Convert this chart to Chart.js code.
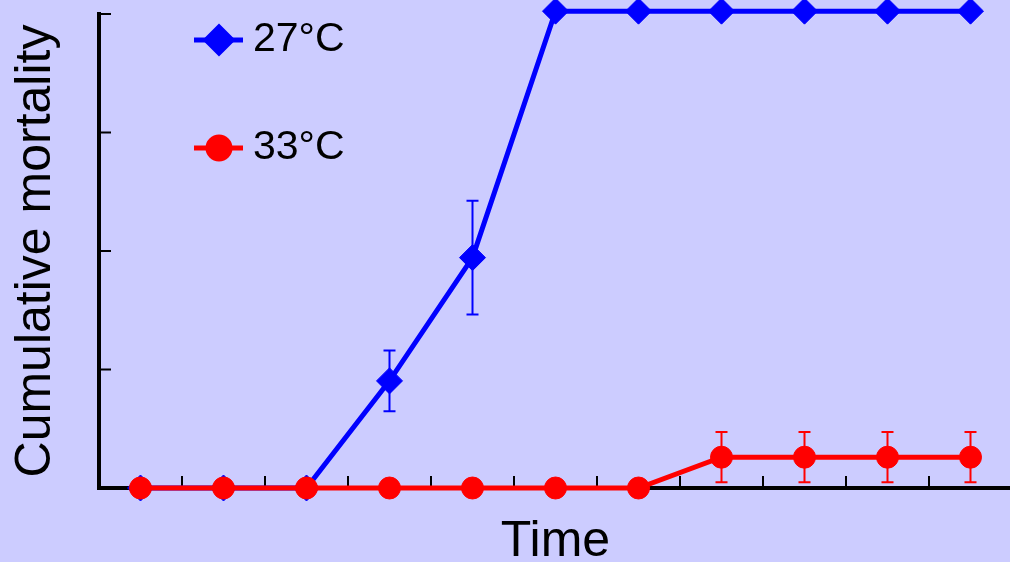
<!DOCTYPE html>
<html>
<head>
<meta charset="utf-8">
<script src="https://cdn.jsdelivr.net/npm/chart.js@4.4.1/dist/chart.umd.min.js"></script>
<style>
  html, body { margin: 0; padding: 0; background: #ccccff; overflow: hidden; }
</style>
</head>
<body>
<canvas id="chart" width="1012" height="562"></canvas>
<script>
// time points (no tick labels shown on the original)
const timePoints = ['1', '2', '3', '4', '5', '6', '7', '8', '9', '10', '11'];

// cumulative mortality (%)
const mort27 = [0, 0, 0, 22.6, 48.6, 100.6, 100.6, 100.6, 100.6, 100.6, 100.6];
const err27 = [0, 0, 0, 6.4, 12, 0, 0, 0, 0, 0, 0];
const mort33 = [0, 0, 0, 0, 0, 0, 0, 6.5, 6.5, 6.5, 6.5];
const err33 = [0, 0, 0, 0, 0, 0, 0, 5.3, 5.3, 5.3, 5.3];

const yTicks = [25, 50, 75, 100];
const FONT = "'Liberation Sans', Arial, sans-serif";

// axis lines and inward tick marks
const axesPlugin = {
  id: 'axes',
  beforeDatasetsDraw(chart) {
    const { ctx, chartArea: a, scales: { x, y } } = chart;
    ctx.save();
    ctx.strokeStyle = '#000';
    ctx.lineCap = 'butt';
    ctx.lineWidth = 4;
    ctx.beginPath();
    ctx.moveTo(a.left, y.getPixelForValue(100) - 2);
    ctx.lineTo(a.left, a.bottom);
    ctx.lineTo(chart.width, a.bottom);
    ctx.stroke();
    ctx.lineWidth = 2;
    yTicks.forEach(v => {
      const py = y.getPixelForValue(v);
      ctx.beginPath();
      ctx.moveTo(a.left, py);
      ctx.lineTo(a.left + 12, py);
      ctx.stroke();
    });
    for (let i = 0; i < timePoints.length - 1; i++) {
      const px = (x.getPixelForValue(i) + x.getPixelForValue(i + 1)) / 2;
      ctx.beginPath();
      ctx.moveTo(px, a.bottom);
      ctx.lineTo(px, a.bottom - 12);
      ctx.stroke();
    }
    ctx.restore();
  }
};

// error bars
const errorBarPlugin = {
  id: 'errorBars',
  beforeDatasetsDraw(chart) {
    const { ctx, scales: { x, y } } = chart;
    chart.data.datasets.forEach(ds => {
      ctx.save();
      ctx.strokeStyle = ds.borderColor;
      ctx.lineWidth = 2;
      ds.data.forEach((v, i) => {
        const e = ds.errors[i];
        if (!e) return;
        const px = x.getPixelForValue(i);
        const top = y.getPixelForValue(v + e);
        const bot = y.getPixelForValue(v - e);
        ctx.beginPath();
        ctx.moveTo(px, top); ctx.lineTo(px, bot);
        ctx.moveTo(px - 6, top); ctx.lineTo(px + 6, top);
        ctx.moveTo(px - 6, bot); ctx.lineTo(px + 6, bot);
        ctx.stroke();
      });
      ctx.restore();
    });
  }
};

// legend in the top left corner
const legendPlugin = {
  id: 'customLegend',
  afterDraw(chart) {
    const { ctx } = chart;
    const rows = [
      { ds: chart.data.datasets[1], y: 40 },
      { ds: chart.data.datasets[0], y: 148 }
    ];
    rows.forEach(r => {
      ctx.save();
      ctx.strokeStyle = r.ds.borderColor;
      ctx.lineWidth = r.ds.borderWidth;
      ctx.beginPath();
      ctx.moveTo(194, r.y);
      ctx.lineTo(243, r.y);
      ctx.stroke();
      ctx.fillStyle = r.ds.backgroundColor;
      ctx.strokeStyle = r.ds.borderColor;
      Chart.helpers.drawPoint(ctx, {
        pointStyle: r.ds.pointStyle, radius: r.ds.pointRadius, borderWidth: 1
      }, 219, r.y);
      ctx.fillStyle = '#000';
      ctx.font = '41px ' + FONT;
      ctx.textBaseline = 'middle';
      ctx.fillText(r.ds.label, 253, r.y);
      ctx.restore();
    });
  }
};

new Chart(document.getElementById('chart'), {
  type: 'line',
  data: {
    labels: timePoints,
    datasets: [
      {
        label: '33°C',
        data: mort33,
        errors: err33,
        borderColor: '#ff0000',
        backgroundColor: '#ff0000',
        borderWidth: 5,
        pointStyle: 'circle',
        pointRadius: 11,
        pointBorderWidth: 1,
        clip: false,
        order: 0
      },
      {
        label: '27°C',
        data: mort27,
        errors: err27,
        borderColor: '#0000ff',
        backgroundColor: '#0000ff',
        borderWidth: 5,
        pointStyle: 'rectRot',
        pointRadius: 13,
        pointBorderWidth: 1,
        clip: false,
        order: 1
      }
    ]
  },
  options: {
    responsive: false,
    animation: false,
    layout: { autoPadding: false, padding: { top: 14, right: 0, left: 0, bottom: 0 } },
    plugins: { legend: { display: false }, tooltip: { enabled: false } },
    scales: {
      x: {
        type: 'category',
        offset: true,
        grid: { display: false },
        border: { display: false },
        ticks: { display: false },
        title: {
          display: true,
          text: 'Time',
          color: '#000',
          font: { family: FONT, size: 50, lineHeight: 0.8 },
          padding: 0
        },
        afterFit(s) { s.height = 74; }
      },
      y: {
        min: 0,
        max: 100,
        grid: { display: false },
        border: { display: false },
        ticks: { display: false, stepSize: 25 },
        title: {
          display: true,
          text: 'Cumulative mortality',
          color: '#000',
          font: { family: FONT, size: 50, lineHeight: 1.2 },
          padding: { top: 6, bottom: 0 }
        },
        afterFit(s) { s.width = 99; }
      }
    }
  },
  plugins: [axesPlugin, errorBarPlugin, legendPlugin]
});
</script>
</body>
</html>
